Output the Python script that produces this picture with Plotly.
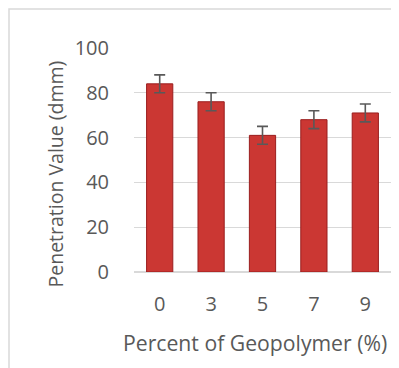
import plotly.graph_objects as go

categories = ["0", "3", "5", "7", "9"]
penetration = [84, 76, 61, 68, 71]
errors = [4, 4, 4, 4, 4]
y_ticks = [0, 20, 40, 60, 80, 100]

W, H = 399, 368
OFF = 8  # default page body margin shifts the figure by 8px
L, R, T, B = 134 - OFF, W - 391 + OFF, 48 - OFF, H - 272 + OFF
pw = W - L - R
ph = H - T - B

def px(x):
    return (x - OFF - L) / pw

def py(y):
    return (H - B - (y - OFF)) / ph

fig = go.Figure()
fig.add_trace(go.Bar(
    x=categories, y=penetration,
    marker=dict(color="#CB3733", line=dict(color="#9A1E1E", width=1)),
    error_y=dict(type="data", array=errors, visible=True,
                 color="#595959", thickness=1.6, width=5.5),
))

font = "Open Sans, Noto Sans, sans-serif"
fig.update_layout(
    width=W, height=H,
    margin=dict(l=L, r=R, t=T, b=B, autoexpand=False),
    paper_bgcolor="white", plot_bgcolor="white",
    showlegend=False, bargap=0.49,
    font=dict(family=font, color="#595959"),
    xaxis=dict(type="category", showgrid=False, showline=False, zeroline=False,
               tickfont=dict(size=20, color="#595959"),
               ticks="outside", ticklen=14, tickcolor="rgba(0,0,0,0)"),
    yaxis=dict(range=[0, 100], tickvals=y_ticks, showgrid=True,
               gridcolor="#D9D9D9", gridwidth=1.2,
               zeroline=True, zerolinecolor="#D9D9D9", zerolinewidth=1.5,
               showline=False,
               tickfont=dict(size=20, color="#595959"),
               ticks="outside", ticklen=20, tickcolor="rgba(0,0,0,0)"),
    shapes=[dict(type="rect", xref="paper", yref="paper",
                 x0=px(9), x1=px(420), y0=py(9), y1=py(390),
                 line=dict(color="#D9D9D9", width=1.5), layer="below")],
    annotations=[
        dict(text="Penetration Value (dmm)", xref="paper", yref="paper",
             x=px(55), y=py(174.5), textangle=-90, showarrow=False,
             xanchor="center", yanchor="middle",
             font=dict(size=19.5, color="#595959", family=font)),
        dict(text="Percent of Geopolymer (%)", xref="paper", yref="paper",
             x=px(255), y=py(342), showarrow=False,
             xanchor="center", yanchor="middle",
             font=dict(size=21.2, color="#595959", family=font)),
    ],
)

fig.write_html("out.html")
